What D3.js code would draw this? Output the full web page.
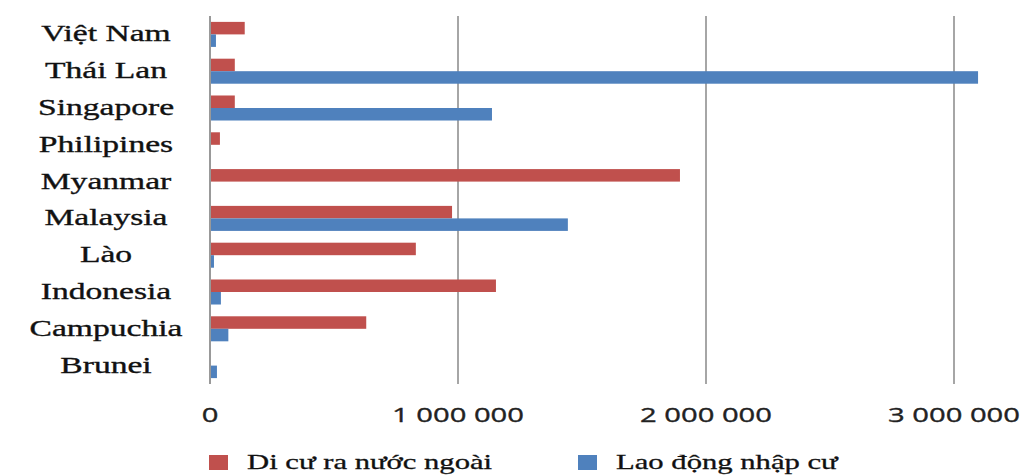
<!DOCTYPE html>
<html>
<head>
<meta charset="utf-8">
<script src="https://cdn.jsdelivr.net/npm/d3@7"></script>
<style>
  html, body { margin: 0; padding: 0; background: #fff; }
  svg { display: block; }
</style>
</head>
<body>
<svg id="chart" width="1033" height="475"></svg>
<script>
// Migration in ASEAN countries
const categories = ["Việt Nam", "Thái Lan", "Singapore", "Philipines", "Myanmar",
                    "Malaysia", "Lào", "Indonesia", "Campuchia", "Brunei"];
const emigrants  = [140000, 100000, 100000, 40000, 1895000, 976000, 830000, 1153000, 630000, 3000];
const immigrants = [24000, 3097000, 1137000, 2000, 1000, 1443000, 16000, 44000, 74000, 28000];
const seriesNames = ["Di cư ra nước ngoài", "Lao động nhập cư"];
const seriesColors = ["#C0504D", "#4F81BD"];
const tickValues = [0, 1000000, 2000000, 3000000];

const svg = d3.select("#chart");
const stretch = 1.46; // horizontal text widening

const x = d3.scaleLinear().domain([0, 3000000]).range([210, 954]);
const y = d3.scaleBand().domain(categories).range([16, 384]).paddingInner(0.32).paddingOuter(0.16);
const ySub = d3.scaleBand().domain([0, 1]).range([0, y.bandwidth()]);

const fmt = d3.formatLocale({ decimal: ",", thousands: " ", grouping: [3], currency: ["", ""] }).format(",d");

// gridlines
svg.append("g")
  .selectAll("line")
  .data(tickValues.slice(1))
  .join("line")
  .attr("x1", d => x(d)).attr("x2", d => x(d))
  .attr("y1", 16).attr("y2", 384)
  .attr("stroke", "#a6a6a6").attr("stroke-width", 2);

// bars
const rows = categories.map((c, i) => ({ c, vals: [emigrants[i], immigrants[i]] }));
const groups = svg.append("g").selectAll("g")
  .data(rows).join("g")
  .attr("transform", d => `translate(0,${y(d.c)})`);
groups.selectAll("rect")
  .data(d => d.vals.map((v, k) => ({ v, k })))
  .join("rect")
  .attr("x", x(0))
  .attr("y", d => ySub(d.k))
  .attr("width", d => x(d.v) - x(0))
  .attr("height", ySub.bandwidth())
  .attr("fill", d => seriesColors[d.k]);

// vertical axis line
svg.append("line")
  .attr("x1", x(0)).attr("x2", x(0))
  .attr("y1", 16).attr("y2", 384)
  .attr("stroke", "#999").attr("stroke-width", 2);

// category labels
svg.append("g").selectAll("g")
  .data(categories).join("g")
  .attr("transform", d => `translate(106,${y(d) + y.bandwidth() / 2})`)
  .append("text")
  .attr("transform", `scale(${stretch},1)`)
  .attr("text-anchor", "middle")
  .attr("dy", "0.3em")
  .attr("font-family", "'Liberation Serif', 'Times New Roman', serif")
  .attr("font-size", 23)
  .attr("fill", "#111")
  .attr("stroke", "#111").attr("stroke-width", 0.35)
  .text(d => d);

// value axis labels
svg.append("g").selectAll("g")
  .data(tickValues).join("g")
  .attr("transform", d => `translate(${x(d)},415)`)
  .append("text")
  .attr("transform", `scale(${stretch},1)`)
  .attr("text-anchor", "middle")
  .attr("dy", "0.35em")
  .attr("font-family", "'Open Sans', sans-serif")
  .attr("font-size", 20)
  .attr("fill", "#222")
  .attr("stroke", "#222").attr("stroke-width", 0.35)
  .text(d => fmt(d));

// legend
const legendX = [209, 578];
const legend = svg.append("g").selectAll("g")
  .data(seriesNames).join("g")
  .attr("transform", (d, i) => `translate(${legendX[i]},455)`);
legend.append("rect")
  .attr("width", 19).attr("height", 15)
  .attr("fill", (d, i) => seriesColors[i]);
legend.append("g")
  .attr("transform", "translate(38,14)")
  .append("text")
  .attr("transform", `scale(${stretch},1)`)
  .attr("font-family", "'Liberation Serif', 'Times New Roman', serif")
  .attr("font-size", 21)
  .attr("fill", "#111")
  .attr("stroke", "#111").attr("stroke-width", 0.3)
  .text(d => d);
</script>
</body>
</html>
